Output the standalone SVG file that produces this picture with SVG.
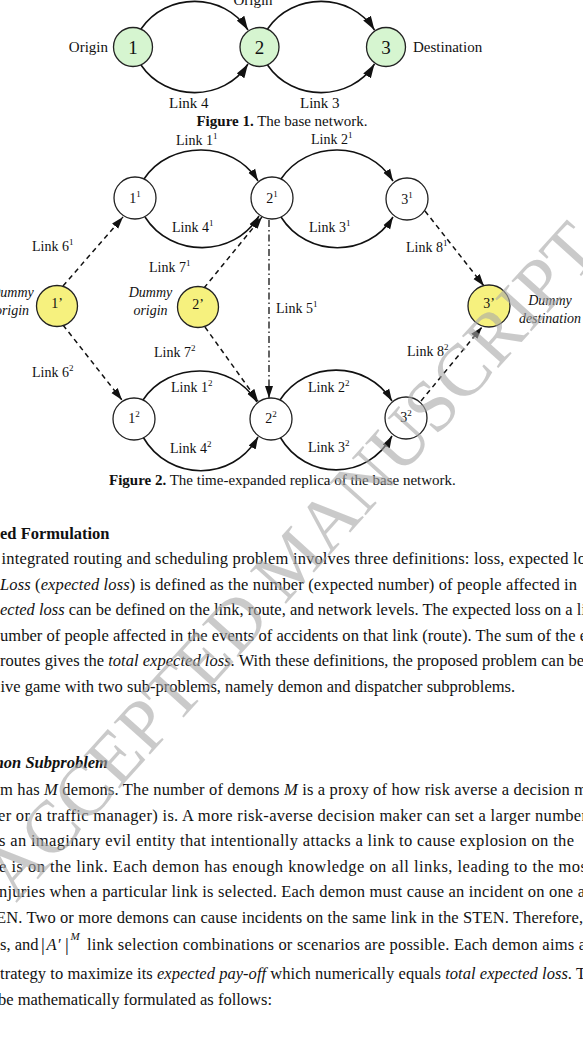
<svg xmlns="http://www.w3.org/2000/svg" width="583" height="1044" viewBox="0 0 583 1044">
<style>
text{font-family:"Liberation Serif","Times New Roman",serif;fill:#111}
.f1{font-size:15px}
.f2{font-size:14px}
.sup{font-size:9px}
.it{font-style:italic}
.b{font-weight:bold}
.body{font-size:16.5px}
.gn{fill:#d6f5d0;stroke:#222;stroke-width:1.3}
.wn{fill:#fff;stroke:#222;stroke-width:1.3}
.yn{fill:#f6f17e;stroke:#222;stroke-width:1.3}
.cv{fill:none;stroke:#111;stroke-width:1.6}
.ds{fill:none;stroke:#111;stroke-width:1.5;stroke-dasharray:5 4}
.dd{fill:none;stroke:#111;stroke-width:1.3;stroke-dasharray:7 3 1.5 3}
.wm{font-size:74px;fill:#a8a8a8;opacity:0.6}
</style>
<defs>
<marker id="a1" markerUnits="userSpaceOnUse" markerWidth="14" markerHeight="10" viewBox="0 0 14 10" refX="14" refY="5" orient="auto"><path d="M0,0.5 L14,5 L0,9.5 z" fill="#111"/></marker>
<marker id="a2" markerUnits="userSpaceOnUse" markerWidth="12" markerHeight="9" viewBox="0 0 12 9" refX="12" refY="4.5" orient="auto"><path d="M0,0.5 L12,4.5 L0,8.5 z" fill="#111"/></marker>
</defs>
<rect width="583" height="1044" fill="#fff"/>

<!-- Figure 1 -->
<g id="fig1-connectors">
<path class="cv" d="M141,29 C166,-8 224,-8 248,30" marker-end="url(#a1)"/>
<path class="cv" d="M141,65 C166,102 224,102 248,64" marker-end="url(#a1)"/>
<path class="cv" d="M267.5,29 C292.5,-8 350.5,-8 374.5,30" marker-end="url(#a1)"/>
<path class="cv" d="M267.5,65 C292.5,102 350.5,102 374.5,64" marker-end="url(#a1)"/>
</g>
<g id="fig1-node1"><circle class="gn" cx="133" cy="47" r="19.5"/><text x="133" y="54" text-anchor="middle" font-size="19">1</text></g>
<g id="fig1-node2"><circle class="gn" cx="259.5" cy="47" r="19.5"/><text x="259.5" y="54" text-anchor="middle" font-size="19">2</text></g>
<g id="fig1-node3"><circle class="gn" cx="386" cy="47" r="19.5"/><text x="386" y="54" text-anchor="middle" font-size="19">3</text></g>
<g id="fig1-labels">
<text class="f1" x="253" y="5" text-anchor="middle">Origin</text>
<text class="f1" x="108" y="52" text-anchor="end">Origin</text>
<text class="f1" x="413" y="52">Destination</text>
<text class="f1" x="169" y="108">Link 4</text>
<text class="f1" x="300" y="108">Link 3</text>
<text class="f1" x="282" y="126" text-anchor="middle"><tspan class="b">Figure 1.</tspan> The base network.</text>
</g>

<!-- Figure 2 -->
<g id="fig2-connectors">
<path class="cv" d="M144,179 C170,140 233,140 258,181" marker-end="url(#a2)"/>
<path class="cv" d="M145,217 C171,258 234,258 259,216" marker-end="url(#a2)"/>
<path class="cv" d="M281,179 C307,140 368,140 393,181" marker-end="url(#a2)"/>
<path class="cv" d="M281,217 C307,258 368,258 393,217" marker-end="url(#a2)"/>
<path class="cv" d="M143,400 C169,361 232,361 257,402" marker-end="url(#a2)"/>
<path class="cv" d="M143,437 C169,482 233,482 258,437" marker-end="url(#a2)"/>
<path class="cv" d="M280,400 C306,360 367,360 392,401" marker-end="url(#a2)"/>
<path class="cv" d="M280,437 C306,481 367,481 392,436" marker-end="url(#a2)"/>
<path class="ds" d="M63,286 L123,217" marker-end="url(#a2)"/>
<path class="ds" d="M204,288 L262,217" marker-end="url(#a2)"/>
<path class="ds" d="M63,325 L122,400" marker-end="url(#a2)"/>
<path class="ds" d="M205,327 L258,401" marker-end="url(#a2)"/>
<path class="ds" d="M425,211 L484,286" marker-end="url(#a2)"/>
<path class="ds" d="M421,401 L482,327" marker-end="url(#a2)"/>
<path class="dd" d="M269,220 L269,398" marker-end="url(#a2)"/>
</g>
<g id="n1-1"><circle class="wn" cx="135" cy="198" r="21"/><text class="f2" x="135" y="203" text-anchor="middle">1<tspan class="sup" dy="-6">1</tspan></text></g>
<g id="n2-1"><circle class="wn" cx="272" cy="198" r="21"/><text class="f2" x="272" y="203" text-anchor="middle">2<tspan class="sup" dy="-6">1</tspan></text></g>
<g id="n3-1"><circle class="wn" cx="407" cy="199" r="21"/><text class="f2" x="407" y="204" text-anchor="middle">3<tspan class="sup" dy="-6">1</tspan></text></g>
<g id="n1-2"><circle class="wn" cx="134" cy="419" r="21"/><text class="f2" x="134" y="423" text-anchor="middle">1<tspan class="sup" dy="-6">2</tspan></text></g>
<g id="n2-2"><circle class="wn" cx="271" cy="419" r="21"/><text class="f2" x="271" y="423" text-anchor="middle">2<tspan class="sup" dy="-6">2</tspan></text></g>
<g id="n3-2"><circle class="wn" cx="406" cy="418" r="21"/><text class="f2" x="406" y="422" text-anchor="middle">3<tspan class="sup" dy="-6">2</tspan></text></g>
<g id="n1p"><circle class="yn" cx="57" cy="306" r="20.5"/><text class="f2" x="57" y="308" text-anchor="middle">1’</text></g>
<g id="n2p"><circle class="yn" cx="198" cy="307" r="20.5"/><text class="f2" x="198" y="309" text-anchor="middle">2’</text></g>
<g id="n3p"><circle class="yn" cx="489" cy="306" r="21"/><text class="f2" x="489" y="308" text-anchor="middle">3’</text></g>
<g id="fig2-labels">
<text class="f2" x="176" y="145">Link 1<tspan class="sup" dy="-6">1</tspan></text>
<text class="f2" x="172" y="232">Link 4<tspan class="sup" dy="-6">1</tspan></text>
<text class="f2" x="311" y="144">Link 2<tspan class="sup" dy="-6">1</tspan></text>
<text class="f2" x="309" y="232">Link 3<tspan class="sup" dy="-6">1</tspan></text>
<text class="f2" x="32" y="251">Link 6<tspan class="sup" dy="-6">1</tspan></text>
<text class="f2" x="149" y="272">Link 7<tspan class="sup" dy="-6">1</tspan></text>
<text class="f2" x="406" y="252">Link 8<tspan class="sup" dy="-6">1</tspan></text>
<text class="f2" x="276" y="313">Link 5<tspan class="sup" dy="-6">1</tspan></text>
<text class="f2" x="154" y="357">Link 7<tspan class="sup" dy="-6">2</tspan></text>
<text class="f2" x="32" y="377">Link 6<tspan class="sup" dy="-6">2</tspan></text>
<text class="f2" x="407" y="356">Link 8<tspan class="sup" dy="-6">2</tspan></text>
<text class="f2" x="171" y="392">Link 1<tspan class="sup" dy="-6">2</tspan></text>
<text class="f2" x="308" y="392">Link 2<tspan class="sup" dy="-6">2</tspan></text>
<text class="f2" x="170" y="453">Link 4<tspan class="sup" dy="-6">2</tspan></text>
<text class="f2" x="308" y="452">Link 3<tspan class="sup" dy="-6">2</tspan></text>
<text class="f2 it" x="12" y="297" text-anchor="middle">Dummy</text>
<text class="f2 it" x="12" y="315" text-anchor="middle">origin</text>
<text class="f2 it" x="150.5" y="297" text-anchor="middle">Dummy</text>
<text class="f2 it" x="150.5" y="315" text-anchor="middle">origin</text>
<text class="f2 it" x="550" y="305" text-anchor="middle">Dummy</text>
<text class="f2 it" x="550" y="323" text-anchor="middle">destination</text>
<text class="f1" x="109" y="485"><tspan class="b">Figure 2.</tspan> The time-expanded replica of the base network.</text>
</g>

<!-- Body text -->
<g id="body" class="body">
<text class="body b" x="0" y="539">ed Formulation</text>
<text class="body" x="1.5" y="564" textLength="584.5" lengthAdjust="spacing">integrated routing and scheduling problem involves three definitions: loss, expected lo</text>
<text class="body" x="0" y="589.5" textLength="577" lengthAdjust="spacing"><tspan class="it">Loss</tspan> (<tspan class="it">expected loss</tspan>) is defined as the number (expected number) of people affected in</text>
<text class="body" x="0" y="615" textLength="586" lengthAdjust="spacing"><tspan class="it">ected loss</tspan> can be defined on the link, route, and network levels. The expected loss on a li</text>
<text class="body" x="0" y="640.5" textLength="587" lengthAdjust="spacing">umber of people affected in the events of accidents on that link (route). The sum of the e</text>
<text class="body" x="0" y="666" textLength="584" lengthAdjust="spacing">routes gives the <tspan class="it">total expected loss</tspan>. With these definitions, the proposed problem can be</text>
<text class="body" x="0.5" y="691.5">ive game with two sub-problems, namely demon and dispatcher subproblems.</text>
<text class="body b it" x="-9" y="768">mon Subproblem</text>
<text class="body" x="0" y="795" textLength="587" lengthAdjust="spacing">m has <tspan class="it">M</tspan> demons. The number of demons <tspan class="it">M</tspan> is a proxy of how risk averse a decision m</text>
<text class="body" x="-2" y="820.5" textLength="589" lengthAdjust="spacing">er or a traffic manager) is. A more risk-averse decision maker can set a larger number</text>
<text class="body" x="-1" y="846" textLength="575" lengthAdjust="spacing">s an imaginary evil entity that intentionally attacks a link to cause explosion on the</text>
<text class="body" x="-1" y="871.5" textLength="588" lengthAdjust="spacing">e is on the link. Each demon has enough knowledge on all links, leading to the mos</text>
<text class="body" x="-1" y="897" textLength="586" lengthAdjust="spacing">njuries when a particular link is selected. Each demon must cause an incident on one a</text>
<text class="body" x="-4" y="922.5" textLength="587" lengthAdjust="spacing">EN. Two or more demons can cause incidents on the same link in the STEN. Therefore,</text>
<text class="body" x="0" y="950">s, and</text>
<text font-size="19" x="41" y="951">|</text>
<text class="body it" x="46.5" y="950">A</text>
<text class="body" x="58" y="950">′</text>
<text font-size="19" x="65" y="951">|</text>
<text class="it" font-size="11" x="70.5" y="940">M</text>
<text class="body" x="87" y="950" textLength="499" lengthAdjust="spacing">link selection combinations or scenarios are possible. Each demon aims a</text>
<text class="body" x="0" y="979" textLength="586" lengthAdjust="spacing">trategy to maximize its <tspan class="it">expected pay-off</tspan> which numerically equals <tspan class="it">total expected loss</tspan>. T</text>
<text class="body" x="-2" y="1005">be mathematically formulated as follows:</text>
</g>

<!-- Watermark -->
<text class="wm" x="310" y="577" transform="rotate(-48 310 577)" text-anchor="middle">ACCEPTED MANUSCRIPT</text>
</svg>
